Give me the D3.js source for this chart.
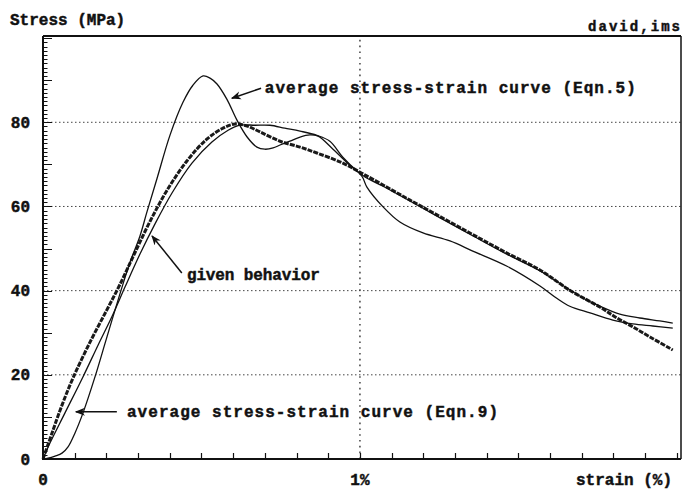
<!DOCTYPE html>
<html>
<head>
  <meta charset="utf-8">
  <script src="https://d3js.org/d3.v7.min.js"></script>
  <style>
    body { margin: 0; background: #fff; }
    text { font-family: "Liberation Mono", "DejaVu Sans Mono", monospace; font-weight: bold; fill: #111; stroke: #111; stroke-width: 0.45px; }
  </style>
</head>
<body>
  <div id="chart"></div>
  <script>
    // given behavior (thick measured curve)
    var givenStrain = [0, 0.03, 0.06, 0.095, 0.15, 0.202, 0.243, 0.29, 0.338, 0.391, 0.454, 0.517, 0.568, 0.606, 0.644,
      0.685, 0.748, 0.811, 0.864, 0.946, 1.006, 1.073, 1.158, 1.243, 1.347, 1.457, 1.568, 1.662, 1.757, 1.811, 1.861, 1.915, 1.987];
    var givenStress = [0, 6.5, 12.8, 19.3, 28.0, 35.5, 41.5, 49.0, 56.5, 63.8, 70.8, 76.0, 78.6, 79.6, 79.1,
      77.7, 75.5, 74.1, 72.7, 70.3, 67.9, 65.1, 61.5, 58.0, 53.7, 49.2, 44.9, 40.1, 36.1, 33.5, 31.4, 29.0, 25.9];

    // average stress-strain curve (Eqn.5)
    var eqn5Strain = [0, 0.016, 0.038, 0.06, 0.079, 0.101, 0.126, 0.164, 0.199, 0.237, 0.274, 0.306, 0.328, 0.36, 0.401,
      0.442, 0.473, 0.505, 0.527, 0.549, 0.58, 0.612, 0.644, 0.675, 0.7, 0.726, 0.748, 0.779, 0.811, 0.842, 0.868,
      0.915, 0.968, 1.006, 1.022, 1.073, 1.126, 1.199, 1.284, 1.356, 1.464, 1.568, 1.621, 1.662, 1.726, 1.798, 1.861, 1.924, 1.987];
    var eqn5Stress = [0, 0.2, 0.7, 1.4, 2.9, 6.2, 10.9, 19.5, 28.3, 37.8, 46.6, 53.0, 58.7, 66.7, 77.0,
      84.8, 88.8, 91.0, 90.5, 89.1, 85.5, 80.5, 76.5, 74.1, 73.6, 73.9, 74.6, 75.5, 76.5, 77.0, 76.7,
      73.6, 69.8, 67.2, 64.6, 59.9, 56.3, 53.7, 51.8, 49.4, 45.8, 41.1, 38.2, 36.3, 34.7, 33.0, 32.1, 31.6, 31.1];

    // average stress-strain curve (Eqn.9)
    var eqn9Strain = [0, 0.022, 0.069, 0.126, 0.174, 0.221, 0.259, 0.306, 0.353, 0.407, 0.47, 0.533, 0.584, 0.621, 0.669,
      0.716, 0.763, 0.811, 0.864, 0.905, 0.946, 0.991, 1.016, 1.073, 1.158, 1.243, 1.347, 1.457, 1.568, 1.647, 1.71,
      1.757, 1.82, 1.883, 1.946, 1.987];
    var eqn9Stress = [0, 3.8, 10.9, 19.5, 27.1, 34.4, 40.9, 48.7, 55.8, 63.2, 70.3, 75.3, 78.1, 79.3, 79.3,
      79.3, 78.6, 77.9, 76.9, 75.5, 71.7, 68.4, 67.0, 64.8, 61.3, 57.7, 53.4, 48.9, 44.7, 40.9, 38.0,
      36.3, 34.4, 33.5, 32.8, 32.3];

    var yTickValues = [0, 20, 40, 60, 80];
    var yTickLabels = ["0", "20", "40", "60", "80"];
    var xTickValues = [0, 1];
    var xTickLabels = ["0", "1%"];

    // annotation texts and where their arrows go (data units)
    var annoTexts = ["average stress-strain curve (Eqn.5)", "given behavior", "average stress-strain curve (Eqn.9)"];
    var annoTextAt = [[0.700, 86.9], [0.454, 42.5], [0.265, 10.0]];
    var annoFrom = [[0.688, 88.1], [0.438, 44.2], [0.233, 11.2]];
    var annoTo = [[0.596, 85.7], [0.344, 53.0], [0.104, 11.2]];

    var width = 686,
      height = 491;

    var x = d3.scaleLinear().domain([0, 2.013]).range([43, 681]);
    var y = d3.scaleLinear().domain([0, 100.5]).range([459, 36]);

    var svg = d3.select('#chart')
      .append('svg')
      .attr('width', width)
      .attr('height', height);

    svg.append('defs').append('marker')
      .attr('id', 'arrow')
      .attr('markerUnits', 'userSpaceOnUse')
      .attr('markerWidth', 10)
      .attr('markerHeight', 10)
      .attr('viewBox', '0 0 10 10')
      .attr('refX', 9)
      .attr('refY', 5)
      .attr('orient', 'auto')
      .append('path')
      .attr('d', 'M0,1 L10,5 L0,9 L3,5 z')
      .attr('fill', '#111');

    // dotted grid lines
    svg.selectAll('.hgrid')
      .data(yTickValues.slice(1))
      .enter().append('line')
      .attr('x1', x(0)).attr('x2', x.range()[1])
      .attr('y1', function(d) { return y(d); })
      .attr('y2', function(d) { return y(d); })
      .attr('stroke', '#444')
      .attr('stroke-width', 1)
      .attr('stroke-dasharray', '1.5,2.5');

    svg.append('line')
      .attr('x1', x(1)).attr('x2', x(1))
      .attr('y1', y(0)).attr('y2', y.range()[1])
      .attr('stroke', '#333')
      .attr('stroke-width', 1.4)
      .attr('stroke-dasharray', '1.6,4.2');

    // left axis ticks (every 1 MPa, longer every 10), pointing inside
    svg.selectAll('.ytick')
      .data(d3.range(1, 101))
      .enter().append('line')
      .attr('class', 'ytick')
      .attr('x1', x(0))
      .attr('x2', function(d) { return x(0) + (d % 10 == 0 ? 9 : 4.5); })
      .attr('y1', function(d) { return Math.round(y(d)) + 0.5; })
      .attr('y2', function(d) { return Math.round(y(d)) + 0.5; })
      .attr('stroke', '#111')
      .attr('stroke-width', 1);

    // bottom axis ticks every 0.1 %, pointing up
    svg.selectAll('.xtick')
      .data(d3.range(1, 21).map(function(i) { return i / 10; }))
      .enter().append('line')
      .attr('class', 'xtick')
      .attr('x1', function(d) { return Math.round(x(d)) + 0.5; })
      .attr('x2', function(d) { return Math.round(x(d)) + 0.5; })
      .attr('y1', y(0))
      .attr('y2', y(0) - 6)
      .attr('stroke', '#111')
      .attr('stroke-width', 1.2);

    // frame
    svg.append('line')
      .attr('x1', x(0)).attr('x2', x(0))
      .attr('y1', y.range()[1]).attr('y2', y(0) + 1)
      .attr('stroke', '#111').attr('stroke-width', 2);
    svg.append('line')
      .attr('x1', x(0) - 1).attr('x2', x.range()[1])
      .attr('y1', y(0)).attr('y2', y(0))
      .attr('stroke', '#111').attr('stroke-width', 2);
    svg.append('line')
      .attr('x1', x(0)).attr('x2', x.range()[1])
      .attr('y1', y.range()[1]).attr('y2', y.range()[1])
      .attr('stroke', '#111').attr('stroke-width', 1.8);
    svg.append('line')
      .attr('x1', x.range()[1]).attr('x2', x.range()[1])
      .attr('y1', y.range()[1]).attr('y2', y(0))
      .attr('stroke', '#111').attr('stroke-width', 1.5);

    // curves
    var line = d3.line()
      .x(function(d) { return x(d[0]); })
      .y(function(d) { return y(d[1]); })
      .curve(d3.curveCatmullRom.alpha(0.5));

    function pairs(xs, ys) {
      return xs.map(function(v, i) { return [v, ys[i]]; });
    }

    svg.append('path')
      .datum(pairs(givenStrain, givenStress))
      .attr('d', line)
      .attr('fill', 'none')
      .attr('stroke', '#1a1a1a')
      .attr('stroke-width', 3)
      .attr('stroke-dasharray', '5,1.2');

    svg.append('path')
      .datum(pairs(eqn9Strain, eqn9Stress))
      .attr('d', line)
      .attr('fill', 'none')
      .attr('stroke', '#111')
      .attr('stroke-width', 1.3);

    svg.append('path')
      .datum(pairs(eqn5Strain, eqn5Stress))
      .attr('d', line)
      .attr('fill', 'none')
      .attr('stroke', '#111')
      .attr('stroke-width', 1.3);

    // annotations
    annoTexts.forEach(function(t, i) {
      svg.append('line')
        .attr('x1', x(annoFrom[i][0])).attr('y1', y(annoFrom[i][1]))
        .attr('x2', x(annoTo[i][0])).attr('y2', y(annoTo[i][1]))
        .attr('stroke', '#111')
        .attr('stroke-width', 1.5)
        .attr('marker-end', 'url(#arrow)');
      svg.append('text')
        .attr('x', x(annoTextAt[i][0]))
        .attr('y', y(annoTextAt[i][1]))
        .attr('font-size', 16)
        .attr('textLength', t.length * (i == 1 ? 9.5 : 10.6))
        .attr('lengthAdjust', 'spacing')
        .text(t);
    });

    // tick labels
    svg.selectAll('.ylabel')
      .data(yTickValues)
      .enter().append('text')
      .attr('x', 30)
      .attr('y', function(d) { return y(d); })
      .attr('dy', '0.35em')
      .attr('text-anchor', 'end')
      .attr('font-size', 16)
      .text(function(d, i) { return yTickLabels[i]; });

    svg.selectAll('.xlabel')
      .data(xTickValues)
      .enter().append('text')
      .attr('x', function(d) { return x(d); })
      .attr('y', 485)
      .attr('text-anchor', 'middle')
      .attr('font-size', 16)
      .text(function(d, i) { return xTickLabels[i]; });

    svg.append('text')
      .attr('x', 672).attr('y', 485)
      .attr('text-anchor', 'end')
      .attr('font-size', 16)
      .text('strain (%)');

    svg.append('text')
      .attr('x', 10).attr('y', 25)
      .attr('font-size', 16)
      .text('Stress (MPa)');

    svg.append('text')
      .attr('x', 680).attr('y', 31)
      .attr('text-anchor', 'end')
      .attr('font-size', 14)
      .attr('textLength', 92)
      .attr('lengthAdjust', 'spacing')
      .text('david,ims');
  </script>
</body>
</html>
